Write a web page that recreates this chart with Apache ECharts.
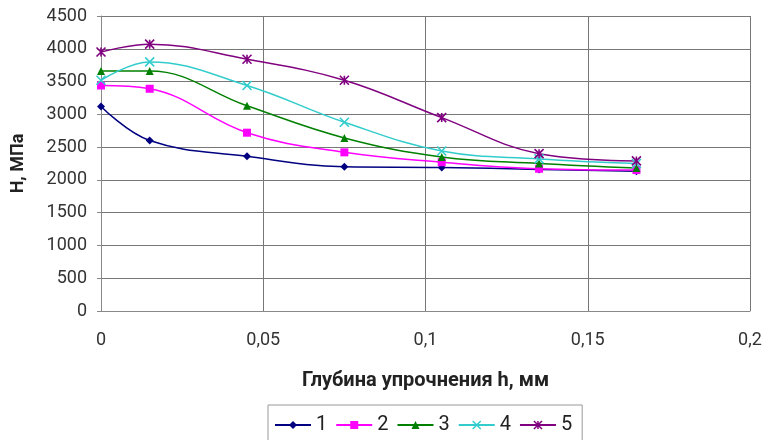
<!DOCTYPE html>
<html><head><meta charset="utf-8">
<script src="https://cdn.jsdelivr.net/npm/echarts@6/dist/echarts.min.js"></script>
<style>html,body{margin:0;padding:0;background:#fff}#c{width:765px;height:440px}</style>
</head><body><div id="c"></div>
<script>
var depth = [0, 0.015, 0.045, 0.075, 0.105, 0.135, 0.165];
var s1 = [3120, 2600, 2360, 2200, 2190, 2160, 2130];
var s2 = [3440, 3390, 2720, 2420, 2270, 2170, 2150];
var s3 = [3660, 3660, 3130, 2640, 2350, 2250, 2180];
var s4 = [3520, 3800, 3440, 2880, 2440, 2320, 2250];
var s5 = [3950, 4070, 3840, 3520, 2950, 2400, 2290];
var names = ['1', '2', '3', '4', '5'];
var colors = ['#000080', '#ff00ff', '#008000', '#33cccc', '#800080'];
var xSym = 'path://M0,0 L10,10 M10,0 L0,10';
var starSym = 'path://M0,0 L10,10 M10,0 L0,10 M5,0 L5,10';
var symbols = ['diamond', 'rect', 'triangle', xSym, starSym];
var sizes = [8, 8, 8, 9, 9];
var all = [s1, s2, s3, s4, s5];
var font = 'Roboto';
function pairs(vals){ return depth.map(function(d,i){ return [d, vals[i]]; }); }
var series = all.map(function(vals, k){
  var stroke = k >= 3;
  return {
    name: names[k], type: 'line', data: pairs(vals), smooth: 0.4,
    symbol: symbols[k], symbolSize: sizes[k], showSymbol: true,
    lineStyle: { color: colors[k], width: 1.5 },
    itemStyle: stroke ? { color: 'rgba(0,0,0,0)', borderColor: colors[k], borderWidth: 1.6 } : { color: colors[k], borderWidth: 0 },
    emphasis: { disabled: true }
  };
});
var chart = echarts.init(document.getElementById('c'));
chart.setOption({
  animation: false,
  color: colors,
  grid: { left: 101, right: 15, top: 16, bottom: 129, containLabel: false, outerBoundsMode: 'none' },
  legend: {
    top: 405, left: 268, itemWidth: 36, itemHeight: 10, itemGap: 8,
    borderColor: '#999', borderWidth: 1, padding: [10, 10, 20, 6],
    textStyle: { fontFamily: font, fontSize: 20, color: '#222' },
    data: names.map(function(n, k){ return { name: n, itemStyle: k>=3 ? { color: 'rgba(0,0,0,0)', borderColor: colors[k], borderWidth: 1.5 } : { color: colors[k] } }; })
  },
  xAxis: {
    type: 'value', min: 0, max: 0.2, interval: 0.05,
    name: 'Глубина упрочнения h, мм', nameLocation: 'middle', nameGap: 60,
    nameTextStyle: { fontFamily: font, fontSize: 20, fontWeight: 'bold', color: '#222' },
    axisLine: { show: true, lineStyle: { color: '#888' } },
    axisTick: { show: false },
    axisLabel: { fontFamily: font, fontSize: 18, color: '#333', margin: 20,
      formatter: function(v){ return String(+v.toFixed(2)).replace('.', ','); } },
    splitLine: { show: true, lineStyle: { color: '#777', width: 1 } }
  },
  yAxis: {
    type: 'value', min: 0, max: 4500, interval: 500,
    name: 'Н, МПа', nameLocation: 'middle', nameGap: 74, nameRotate: 90,
    nameTextStyle: { fontFamily: font, fontSize: 18, fontWeight: 'bold', color: '#222' },
    axisLine: { show: true, lineStyle: { color: '#888' } },
    axisTick: { show: true, inside: false, length: 4, lineStyle: { color: '#888' } },
    axisLabel: { fontFamily: font, fontSize: 18, color: '#333', margin: 14,
      formatter: function(v){ return String(v); } },
    splitLine: { show: true, lineStyle: { color: '#777', width: 1 } }
  },
  series: series
});
</script></body></html>
